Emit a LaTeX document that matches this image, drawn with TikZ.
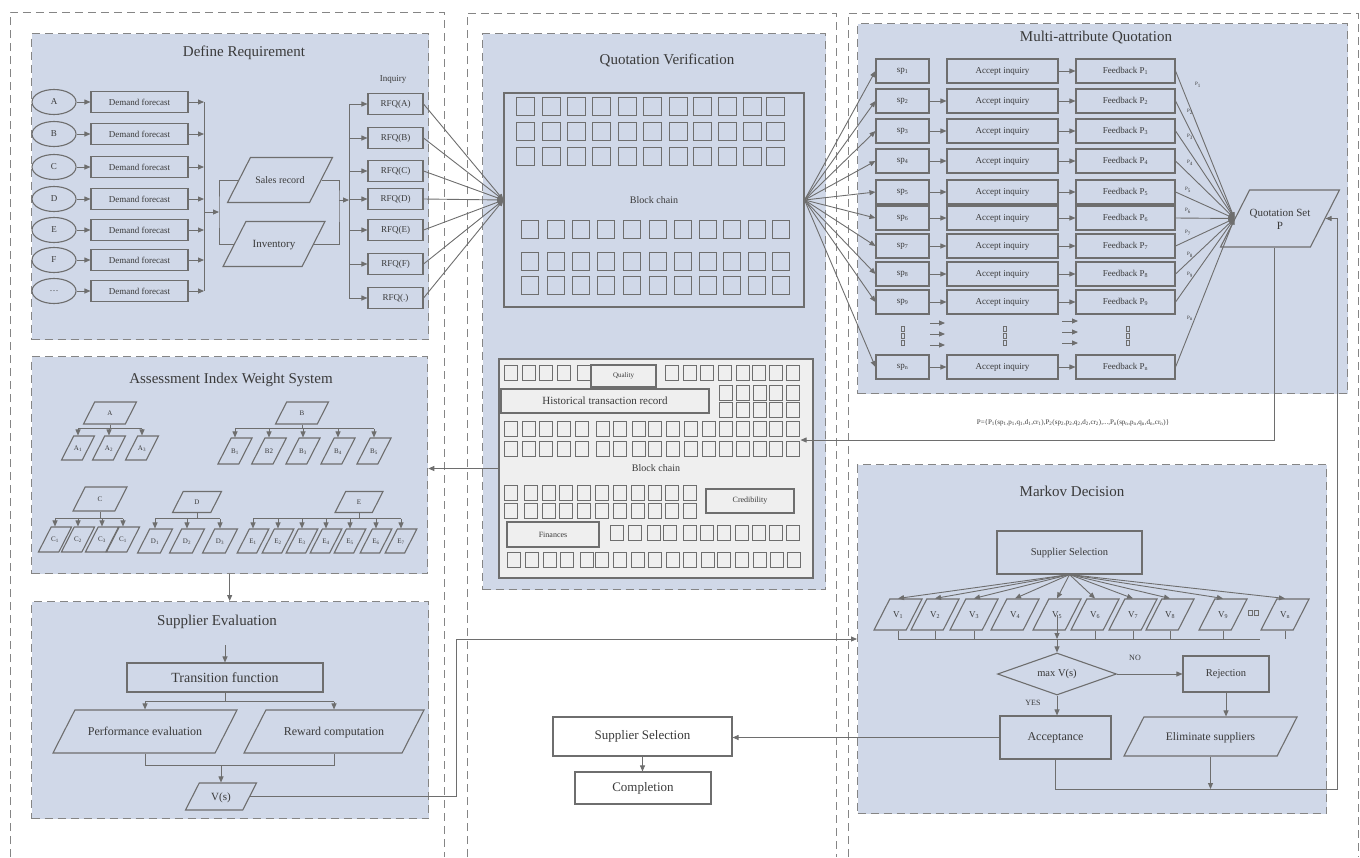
\documentclass[tikz,border=0pt]{standalone}
\usepackage{fontspec}
\setmainfont{Liberation Serif}
\usepackage{tikz}
\usetikzlibrary{positioning,shapes.geometric,arrows.meta,calc}
\definecolor{scfill}{HTML}{D0D8E8}
\definecolor{scline}{HTML}{6E6E6E}
\definecolor{scdash}{HTML}{858585}
\definecolor{sctext}{HTML}{3A3A3A}
\definecolor{scchain}{HTML}{EFEFEF}
\newcommand\tsub[1]{\textsubscript{#1}}
\newcommand\sqrow[2]{\foreach \sx in {#2} \draw[blk] (\sx,#1) rectangle ++(13,15);}
\tikzset{
  col/.style={draw=scdash,line width=0.9pt,dash pattern=on 8pt off 5pt},
  panel/.style={draw=scdash,fill=scfill,line width=1.3pt,dash pattern=on 8pt off 5pt,anchor=north west,inner sep=0pt},
  ttl/.style={font=\fontsize{15}{18}\selectfont},
  box/.style={draw=scline,line width=1.1pt,inner sep=0pt,font=\fontsize{9}{11}\selectfont},
  oval/.style={draw=scline,line width=1.1pt,ellipse,inner sep=0pt,minimum width=44pt,minimum height=25pt,font=\fontsize{9}{11}\selectfont},
  para/.style={draw=scline,line width=1.1pt,trapezium,trapezium left angle=63,trapezium right angle=117,trapezium stretches body,inner sep=0pt},
  pgram/.style 2 args={para,text height={(#1/2+#2)*1pt},text depth={(#1/2-#2)*1pt}},
  wnode/.style={pgram={#1}{2.4},font=\fontsize{7}{8}\selectfont},
  conn/.style={draw=scline,line width=0.9pt},
  arr/.style={conn,-{Triangle[length=6pt,width=5pt]}},
  blk/.style={draw=scline,line width=0.8pt},
  lbl/.style={inner sep=1pt},
}
\begin{document}
\begin{tikzpicture}[x=1pt,y=-1pt,every node/.style={text=sctext}]
  \useasboundingbox (0,0) rectangle (1360,857);
  % three columns
  \draw[col] (10,857) -- (10,12) -- (444,12) -- (444,857);
  \draw[col] (467,857) -- (467,13) -- (836,13) -- (836,857);
  \draw[col] (848,857) -- (848,13) -- (1358,13) -- (1358,857);

  % panels
  \node[panel,minimum width=397pt,minimum height=306pt] (pDR) at (31,33) {};
  \node[panel,minimum width=396pt,minimum height=217pt] (pAW) at (31,356) {};
  \node[panel,minimum width=397pt,minimum height=217pt] (pSE) at (31,601) {};
  \node[panel,minimum width=343pt,minimum height=556pt] (pQV) at (482,33) {};
  \node[panel,minimum width=490pt,minimum height=370pt] (pMQ) at (857,23) {};
  \node[panel,minimum width=469pt,minimum height=349pt] (pMD) at (857,464) {};
  \node[ttl] (tDR) at (244,53) {Define Requirement};
  \node[ttl] (tAW) at (231,380) {Assessment Index Weight System};
  \node[ttl] (tSE) at (217,622) {Supplier Evaluation};
  \node[ttl] (tQV) at (667,60) {Quotation Verification};
  \node[ttl] (tMQ) at (1096,38) {Multi-attribute Quotation};
  \node[ttl] (tMD) at (1072,491) {Markov Decision};

  % define requirement
  \coordinate (busL) at (204,212);
  \coordinate (busR) at (349,200);
  \foreach \i/\y/\lab in {1/102/A,2/134/B,3/167/C,4/199/D,5/230/E,6/260/F,7/291/{\textellipsis}}{
    \node[oval] (src\i) at (54,\y) {\lab};
    \node[box,minimum width=97pt,minimum height=21pt] (dem\i) at (139.5,\y) {Demand forecast};
    \draw[arr] (src\i) -- (dem\i);
    \draw[arr] (dem\i) -- (dem\i -| busL);
  }
  \draw[conn] (busL |- dem1) -- (busL |- dem7);
  \node[pgram={45}{3.5},minimum width=105pt,font=\fontsize{10}{12}\selectfont] (sales) at (280,180) {Sales record};
  \node[pgram={45}{3.8},minimum width=102pt,font=\fontsize{11}{13}\selectfont] (inv) at (274,244) {Inventory};
  \coordinate (brL) at (219,212);
  \coordinate (brR) at (339,200);
  \draw[arr] (busL) -- (brL);
  \draw[conn] (sales.west) -| (brL) |- (inv.west);
  \draw[conn] (sales.east) -| (brR) |- (inv.east);
  \draw[arr] (brR) -- (busR);
  \node[lbl,font=\fontsize{9}{11}\selectfont] (inq) at (393,79) {Inquiry};
  \foreach \i/\y/\lab in {1/104/A,2/138/B,3/171/C,4/199/D,5/230/E,6/264/F,7/298/.}{
    \node[box,minimum width=55pt,minimum height=21pt] (rfq\i) at (395.5,\y) {RFQ(\lab)};
    \draw[arr] (busR |- rfq\i) -- (rfq\i);
  }
  \draw[conn] (busR |- rfq1) -- (busR |- rfq7);

  % quotation verification
  \node[box,minimum width=300pt,minimum height=214pt,font=\fontsize{10}{12}\selectfont] (chain1) at (654,200) {Block chain};
  \foreach \y in {97,122,147}
    \foreach \x in {516,542,567,592,618,643,669,693,718,743,766}
      \draw[blk] (\x,\y) rectangle ++(18,18);
  \foreach \y in {220,252,276}
    \foreach \x in {521,547,572,597,623,649,674,699,723,748,772}
      \draw[blk] (\x,\y) rectangle ++(17,18);
  \foreach \i in {1,...,7}
    \draw[arr] (rfq\i.east) -- (chain1.west);

  \node[box,fill=scchain,minimum width=314pt,minimum height=219pt,font=\fontsize{10}{12}\selectfont] (chain2) at (656,468.5) {Block chain};
  \sqrow{365}{504,522,539,557,577,665,683,700,718,736,752,769,786}
  \sqrow{385}{719,736,753,769,786}
  \sqrow{402}{719,736,753,769,786}
  \sqrow{421}{504,522,539,557,575,596,613,632,648,666,684,702,719,736,753,769,786}
  \sqrow{441}{504,522,539,557,575,596,613,632,648,666,684,702,719,736,753,769,786}
  \sqrow{485}{504,524,542,559,577,595,613,631,648,665,683}
  \sqrow{503}{504,524,542,559,577,595,613,631,648,665,683}
  \sqrow{525}{610,628,647,663,683,700,717,735,752,769,786}
  \sqrow{552}{507,525,543,560,580,595,613,631,648,666,683,701,717,735,753,770,787}
  \node[box,minimum width=65pt,minimum height=22pt,font=\fontsize{7}{8}\selectfont] (qual) at (623.5,376) {Quality};
  \node[box,minimum width=208pt,minimum height=24pt,font=\fontsize{11}{13}\selectfont] (hist) at (605,401) {Historical transaction record};
  \node[box,minimum width=88pt,minimum height=24pt,font=\fontsize{8}{10}\selectfont] (cred) at (750,501) {Credibility};
  \node[box,minimum width=92pt,minimum height=25pt,font=\fontsize{8}{10}\selectfont] (fin) at (553,534.5) {Finances};
  \draw[arr] (chain2.west) -- (chain2.west -| pAW.east);

  % multi-attribute quotation
  \node[pgram={57}{10.5},minimum width=118pt,align=center,font=\fontsize{11}{13}\selectfont] (qset) at (1280,218.5) {Quotation Set\\P};
  \foreach \i/\y in {1/71,2/101,3/131,4/161,5/192,6/218,7/246,8/274,9/302,n/367}{
    \node[box,minimum width=53pt,minimum height=24pt] (sp\i) at (902.5,\y) {sp\tsub{\i}};
    \node[box,minimum width=111pt,minimum height=24pt] (aq\i) at (1002.5,\y) {Accept inquiry};
    \node[box,minimum width=99pt,minimum height=24pt] (fb\i) at (1125.5,\y) {Feedback P\tsub{\i}};
    \draw[arr] (aq\i) -- (fb\i);
    \draw[arr] (chain1.east) -- (sp\i.west);
    \draw[arr] (fb\i.east) -- (qset.west);
  }
  \foreach \i in {2,3,4,5,6,7,8,9,n}
    \draw[arr] (sp\i) -- (aq\i);
  \foreach \i/\x/\y in {1/1198/85,2/1190/112,3/1190/137,4/1190/163,5/1188/190,6/1188/211,7/1188/233,8/1190/255,9/1190/275,n/1190/318}
    \node[lbl,font=\fontsize{5}{6}\selectfont] (pl\i) at (\x,\y) {P\tsub{\i}};
  \foreach \dx in {903,1005,1128}
    \foreach \dy in {326,333,340}
      \draw[blk,line width=0.4pt] (\dx-1.5,\dy) rectangle ++(3,5);
  \foreach \dy in {323,334,345}{
    \coordinate (da\dy) at (930,\dy);
    \coordinate (db\dy) at (1062,\dy-2);
    \draw[arr] (da\dy) -- ++(15,0);
    \draw[arr] (db\dy) -- ++(16,0);
  }
  \coordinate (pcorner) at (1274,440);
  \draw[arr] (qset.south -| pcorner) -- (pcorner) -- ($(chain2.east |- pcorner)+(-13,0)$);
  \node[lbl,font=\fontsize{7}{8}\selectfont] (pform) at (1073,423) {P=\{P\tsub{1}(sp\tsub{1},p\tsub{1},q\tsub{1},d\tsub{1},cr\tsub{1}),P\tsub{2}(sp\tsub{2},p\tsub{2},q\tsub{2},d\tsub{2},cr\tsub{2}),...,P\tsub{n}(sp\tsub{n},p\tsub{n},q\tsub{n},d\tsub{n},cr\tsub{n})\}};

  % assessment index weight system
  \node[wnode=22,minimum width=53pt] (wA) at (110,413) {A};
  \foreach \j/\x in {1/78,2/109,3/142}
    \node[wnode=24,minimum width=33pt] (wA\j) at (\x,448) {A\tsub{\j}};
  \draw[conn] (wA.south) -- ++(0,4) coordinate (jA);
  \draw[conn] (jA -| wA1.north) -- (jA -| wA3.north);
  \foreach \j in {1,2,3}
    \draw[arr] (jA -| wA\j.north) -- (wA\j.north);

  \node[wnode=22,minimum width=53pt] (wB) at (302,413) {B};
  \foreach \j/\x/\lab in {1/235/{B\tsub{1}},2/269/{B2},3/303/{B\tsub{3}},4/338/{B\tsub{4}},5/374/{B\tsub{5}}}
    \node[wnode=26,minimum width=34pt] (wB\j) at (\x,451) {\lab};
  \draw[conn] (wB.south) -- ++(0,4) coordinate (jB);
  \draw[conn] (jB -| wB1.north) -- (jB -| wB5.north);
  \foreach \j in {1,...,5}
    \draw[arr] (jB -| wB\j.north) -- (wB\j.north);

  \node[wnode=24,minimum width=54pt] (wC) at (100,499) {C};
  \foreach \j/\x/\lab in {1/55/1,2/78/2,3/102/3,4/123/1}
    \node[wnode=25,minimum width=28pt] (wC\j) at (\x,539.5) {C\tsub{\lab}};
  \draw[conn] (wC.south) -- ++(0,7) coordinate (jC);
  \draw[conn] (jC -| wC1.north) -- (jC -| wC4.north);
  \foreach \j in {1,...,4}
    \draw[arr] (jC -| wC\j.north) -- (wC\j.north);

  \node[wnode=21,minimum width=49pt] (wD) at (197,502) {D};
  \foreach \j/\x in {1/155,2/187,3/220}
    \node[wnode=24,minimum width=35pt] (wD\j) at (\x,541) {D\tsub{\j}};
  \draw[conn] (wD.south) -- ++(0,5.5) coordinate (jD);
  \draw[conn] (jD -| wD1.north) -- (jD -| wD3.north);
  \foreach \j in {1,2,3}
    \draw[arr] (jD -| wD\j.north) -- (wD\j.north);

  \node[wnode=21,minimum width=48pt] (wE) at (359,502) {E};
  \foreach \j/\x in {1/253,2/278,3/302,4/326,5/350,6/376,7/401}
    \node[wnode=24,minimum width=25pt] (wE\j) at (\x,541) {E\tsub{\j}};
  \draw[conn] (wE.south) -- ++(0,5.5) coordinate (jE);
  \draw[conn] (jE -| wE1.north) -- (jE -| wE7.north);
  \foreach \j in {1,...,7}
    \draw[arr] (jE -| wE\j.north) -- (wE\j.north);
  \draw[arr] (pAW.south) -- (pAW.south |- pSE.north);

  % supplier evaluation
  \coordinate (setop) at (225,645);
  \node[box,minimum width=196pt,minimum height=29pt,font=\fontsize{14}{16}\selectfont] (tf) at (225,677.5) {Transition function};
  \draw[arr] (setop) -- (tf.north);
  \node[pgram={43}{4.2},minimum width=184pt,font=\fontsize{12}{14}\selectfont] (perf) at (145,731.5) {Performance evaluation};
  \node[pgram={43}{4.2},minimum width=180pt,font=\fontsize{12}{14}\selectfont] (rew) at (334,731.5) {Reward computation};
  \draw[conn] (tf.south) -- ++(0,9) coordinate (jsplit);
  \draw[conn] (jsplit -| perf.north) -- (jsplit -| rew.north);
  \draw[arr] (jsplit -| perf.north) -- (perf.north);
  \draw[arr] (jsplit -| rew.north) -- (rew.north);
  \node[pgram={27}{3.8},minimum width=71pt,font=\fontsize{11}{13}\selectfont] (vs) at (221,796.5) {V(s)};
  \draw[conn] (perf.south) -- ++(0,12) coordinate (jmerge) -| (rew.south);
  \draw[arr] (jmerge -| vs.north) -- (vs.north);
  \coordinate (vbend) at (456,639);
  \draw[arr] (vs.east) -| (vbend) -- (vbend -| pMD.west);

  % markov decision
  \node[box,minimum width=145pt,minimum height=43pt,font=\fontsize{10.5}{12}\selectfont] (msel) at (1069.5,552.5) {Supplier Selection};
  \coordinate (mbus) at (1260,639);
  \foreach \i/\x in {1/898,2/935,3/974,4/1015,5/1057,6/1095,7/1133,8/1170,9/1223,n/1285}{
    \node[pgram={31}{3.2},minimum width=48pt,font=\fontsize{9}{11}\selectfont] (v\i) at (\x,614.5) {V\tsub{\i}};
    \draw[arr] (msel.south) -- (v\i.north);
  }
  \foreach \dx in {1248,1254}
    \draw[blk,line width=0.4pt] (\dx,610) rectangle ++(4,5);
  \draw[conn] (mbus -| v1.south) -- (mbus);
  \foreach \i in {1,2,3,6,7,8,9,n}
    \draw[conn] (v\i.south) -- (v\i.south |- mbus);
  \node[diamond,draw=scline,line width=1.1pt,aspect=2.8,minimum width=119pt,minimum height=42pt,inner sep=0pt,font=\fontsize{10.5}{12}\selectfont] (maxv) at (1057,674) {max V(s)};
  \draw[arr] (v5.center) -- (v5.center |- mbus);
  \draw[arr] (v5.center |- mbus) -- (maxv.north);
  \node[box,minimum width=86pt,minimum height=36pt,font=\fontsize{10.5}{12}\selectfont] (rej) at (1226,674) {Rejection};
  \draw[arr] (maxv.east) -- (rej.west);
  \node[lbl,font=\fontsize{8}{10}\selectfont] (no) at (1135,658) {NO};
  \node[box,minimum width=111pt,minimum height=43pt,font=\fontsize{12}{14}\selectfont] (accept) at (1055.5,737.5) {Acceptance};
  \draw[arr] (maxv.south) -- (maxv.south |- accept.north);
  \node[lbl,font=\fontsize{8}{10}\selectfont] (yes) at (1033,703) {YES};
  \node[pgram={39}{4},minimum width=173pt,font=\fontsize{11.5}{13}\selectfont] (elim) at (1210.5,736.5) {Eliminate suppliers};
  \draw[arr] (rej.south) -- (rej.south |- elim.north);
  \coordinate (lpbot) at (1337,789);
  \draw[arr] (accept.south) |- (lpbot) |- (qset.east);
  \draw[arr] (elim.south) -- (elim.south |- lpbot);

  % final selection
  \node[box,minimum width=179pt,minimum height=39pt,font=\fontsize{13}{15}\selectfont] (ssel) at (642.5,736.5) {Supplier Selection};
  \node[box,minimum width=136pt,minimum height=32pt,font=\fontsize{13}{15}\selectfont] (comp) at (643,788) {Completion};
  \draw[arr] (ssel.south) -- (ssel.south |- comp.north);
  \draw[arr] (accept.west) -- (accept.west -| ssel.east);
\end{tikzpicture}
\end{document}
